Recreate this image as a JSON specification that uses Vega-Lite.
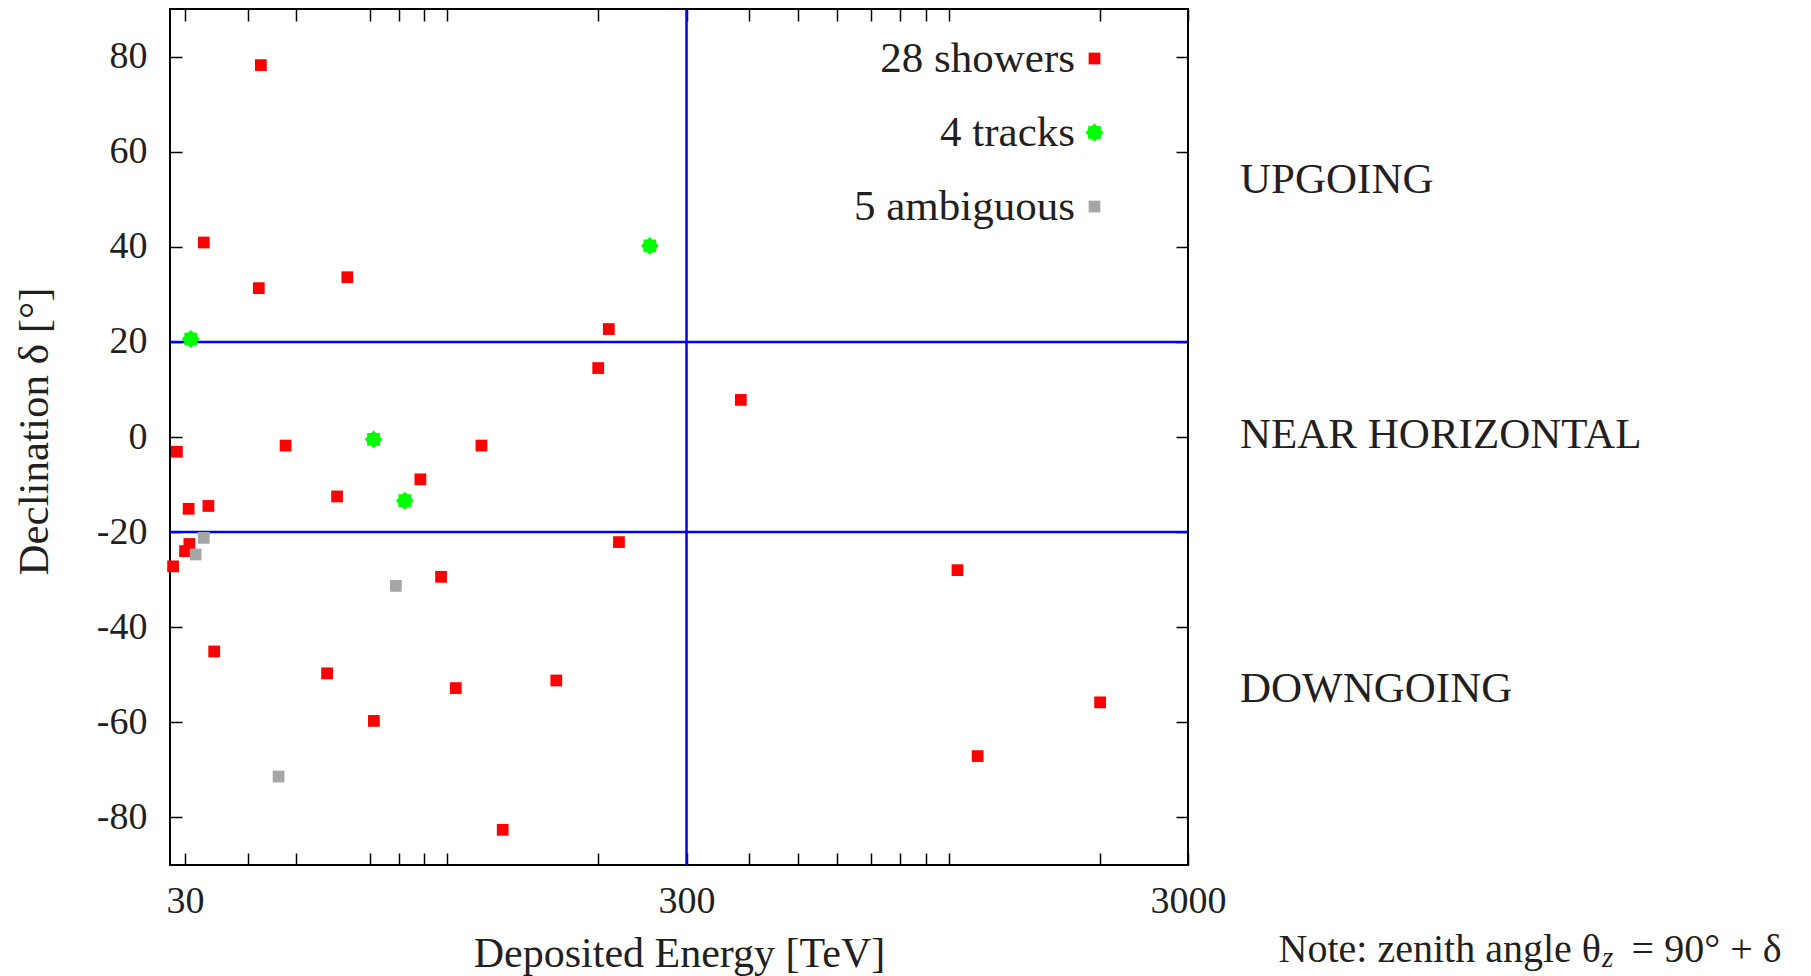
{
  "$schema": "https://vega.github.io/schema/vega-lite/v6.json",
  "autosize": {"type": "none"},
  "padding": {"left": 170, "top": 9, "right": 623, "bottom": 111},
  "width": 1018,
  "height": 856,
  "background": "white",
  "config": {
    "view": {"stroke": "black", "strokeWidth": 2},
    "font": "Liberation Serif",
    "legend": {
      "orient": "none",
      "legendX": 903,
      "legendY": 28,
      "direction": "vertical",
      "padding": 0,
      "labelAlign": "right",
      "labelOffset": -41,
      "labelFontSize": 43,
      "labelFont": "Liberation Serif",
      "labelColor": "#231f20",
      "labelLimit": 500,
      "rowPadding": 30,
      "symbolStrokeWidth": 0
    }
  },
  "layer": [
    {
      "data": {"values": [{"energy": 300}]},
      "mark": {"type": "rule", "color": "#0000ff", "strokeWidth": 2.5},
      "encoding": {
        "x": {
          "field": "energy", "type": "quantitative",
          "scale": {"type": "log", "domain": [28, 3000], "nice": false},
          "axis": {
            "orient": "top", "values": [30,40,50,70,80,90,100,200,300,400,500,600,700,800,900,1000,2000,3000],
            "labels": false, "domain": false, "grid": false, "title": null,
            "tickSize": -12, "tickColor": "black", "tickWidth": 1.5
          }
        }
      }
    },
    {
      "data": {"values": [{"decl": 20}, {"decl": -20}]},
      "mark": {"type": "rule", "color": "#0000ff", "strokeWidth": 2.5},
      "encoding": {
        "y": {
          "field": "decl", "type": "quantitative",
          "scale": {"domain": [-90, 90], "nice": false, "zero": false},
          "axis": {
            "orient": "right", "values": [-80,-60,-40,-20,0,20,40,60,80],
            "labels": false, "domain": false, "grid": false, "title": null,
            "tickSize": -12, "tickColor": "black", "tickWidth": 1.5
          }
        }
      }
    },
    {
      "data": {"values": [
        {"energy": 42.5, "decl": 78.2, "type": "28 showers"},
        {"energy": 32.7, "decl": 40.9, "type": "28 showers"},
        {"energy": 42.1, "decl": 31.3, "type": "28 showers"},
        {"energy": 63.2, "decl": 33.6, "type": "28 showers"},
        {"energy": 28.9, "decl": -3.1, "type": "28 showers"},
        {"energy": 47.6, "decl": -1.8, "type": "28 showers"},
        {"energy": 60.3, "decl": -12.5, "type": "28 showers"},
        {"energy": 30.5, "decl": -15.1, "type": "28 showers"},
        {"energy": 33.4, "decl": -14.5, "type": "28 showers"},
        {"energy": 30.6, "decl": -22.5, "type": "28 showers"},
        {"energy": 30.0, "decl": -24.0, "type": "28 showers"},
        {"energy": 28.4, "decl": -27.2, "type": "28 showers"},
        {"energy": 34.3, "decl": -45.1, "type": "28 showers"},
        {"energy": 57.6, "decl": -49.7, "type": "28 showers"},
        {"energy": 71.4, "decl": -59.7, "type": "28 showers"},
        {"energy": 210, "decl": 22.7, "type": "28 showers"},
        {"energy": 200, "decl": 14.5, "type": "28 showers"},
        {"energy": 385, "decl": 7.8, "type": "28 showers"},
        {"energy": 117, "decl": -1.8, "type": "28 showers"},
        {"energy": 88.4, "decl": -8.9, "type": "28 showers"},
        {"energy": 220, "decl": -22.1, "type": "28 showers"},
        {"energy": 97.2, "decl": -29.4, "type": "28 showers"},
        {"energy": 104, "decl": -52.8, "type": "28 showers"},
        {"energy": 165, "decl": -51.2, "type": "28 showers"},
        {"energy": 129, "decl": -82.6, "type": "28 showers"},
        {"energy": 1041, "decl": -28.0, "type": "28 showers"},
        {"energy": 1142, "decl": -67.1, "type": "28 showers"},
        {"energy": 2004, "decl": -55.8, "type": "28 showers"},
        {"energy": 30.8, "decl": 20.6, "type": "4 tracks"},
        {"energy": 71.3, "decl": -0.5, "type": "4 tracks"},
        {"energy": 82.3, "decl": -13.4, "type": "4 tracks"},
        {"energy": 253.5, "decl": 40.2, "type": "4 tracks"},
        {"energy": 32.7, "decl": -21.2, "type": "5 ambiguous"},
        {"energy": 31.5, "decl": -24.7, "type": "5 ambiguous"},
        {"energy": 79, "decl": -31.3, "type": "5 ambiguous"},
        {"energy": 46.1, "decl": -71.4, "type": "5 ambiguous"}
      ]},
      "mark": {"type": "point", "filled": true, "opacity": 1},
      "encoding": {
        "x": {
          "field": "energy", "type": "quantitative",
          "scale": {"type": "log", "domain": [28, 3000], "nice": false},
          "axis": {
            "orient": "bottom", "values": [30,40,50,70,80,90,100,200,300,400,500,600,700,800,900,1000,2000,3000],
            "labelExpr": "datum.value == 30 || datum.value == 300 || datum.value == 3000 ? '' + datum.value : ''",
            "domain": false, "grid": false,
            "tickSize": -12, "tickColor": "black", "tickWidth": 1.5,
            "labelFont": "Liberation Serif", "labelFontSize": 38, "labelColor": "#231f20",
            "labelPadding": 29, "labelFlush": false, "labelOverlap": false, "labelBound": false,
            "title": "Deposited Energy [TeV]",
            "titleFont": "Liberation Serif", "titleFontSize": 42, "titleFontWeight": "normal", "titleColor": "#231f20",
            "titleX": 509, "titleY": 101, "titleAlign": "center", "titleBaseline": "alphabetic", "titleAngle": 0
          }
        },
        "y": {
          "field": "decl", "type": "quantitative",
          "scale": {"domain": [-90, 90], "nice": false, "zero": false},
          "axis": {
            "orient": "left", "values": [-80,-60,-40,-20,0,20,40,60,80],
            "labelExpr": "(datum.value < 0 ? '-' : '') + abs(datum.value)",
            "domain": false, "grid": false,
            "tickSize": -12, "tickColor": "black", "tickWidth": 1.5,
            "labelFont": "Liberation Serif", "labelFontSize": 38, "labelColor": "#231f20",
            "labelPadding": 35, "labelOverlap": false, "labelBound": false,
            "title": "Declination δ [°]",
            "titleFont": "Liberation Serif", "titleFontSize": 43, "titleFontWeight": "normal", "titleColor": "#231f20",
            "titleX": -123, "titleY": 422, "titleAlign": "center", "titleBaseline": "alphabetic", "titleAngle": -90
          }
        },
        "color": {
          "field": "type", "type": "nominal",
          "scale": {"type": "ordinal", "domain": ["28 showers", "4 tracks", "5 ambiguous"], "range": ["#ff0000", "#00ff00", "#a6a6a6"]},
          "legend": {
            "title": null,
            "encode": {"labels": {"update": {"fill": {"signal": "datum.label === '5 ambiguous' ? '#9e9e9e' : '#231f20'"}}}}
          }
        },
        "shape": {
          "field": "type", "type": "nominal",
          "scale": {"type": "ordinal", "domain": ["28 showers", "4 tracks", "5 ambiguous"], "range": ["square", "M1,0L0.72,0.3L0.71,0.71L0.3,0.72L0,1L-0.3,0.72L-0.71,0.71L-0.72,0.3L-1,0L-0.72,-0.3L-0.71,-0.71L-0.3,-0.72L0,-1L0.3,-0.72L0.71,-0.71L0.72,-0.3Z", "square"]},
          "legend": {"title": null}
        },
        "size": {
          "field": "type", "type": "nominal",
          "scale": {"type": "ordinal", "domain": ["28 showers", "4 tracks", "5 ambiguous"], "range": [138, 320, 138]},
          "legend": {"title": null}
        }
      }
    },
    {
      "data": {"values": [
        {"label": "UPGOING", "energy": 3809, "decl": 54},
        {"label": "NEAR HORIZONTAL", "energy": 3809, "decl": 0.5},
        {"label": "DOWNGOING", "energy": 3809, "decl": -53}
      ]},
      "mark": {"type": "text", "align": "left", "baseline": "middle", "fontSize": 43, "font": "Liberation Serif", "color": "#231f20"},
      "encoding": {
        "x": {"field": "energy", "type": "quantitative", "scale": {"type": "log", "domain": [28, 3000], "nice": false}, "axis": null},
        "y": {"field": "decl", "type": "quantitative", "scale": {"domain": [-90, 90], "nice": false, "zero": false}, "axis": null},
        "text": {"field": "label"}
      }
    },
    {
      "data": {"values": [{"part": "Note: zenith angle θ", "energy": 19978, "decl": -110.4}]},
      "mark": {"type": "text", "align": "right", "baseline": "alphabetic", "fontSize": 40, "font": "Liberation Serif", "color": "#231f20"},
      "encoding": {
        "x": {"field": "energy", "type": "quantitative", "scale": {"type": "log", "domain": [28, 3000], "nice": false}, "axis": null},
        "y": {"field": "decl", "type": "quantitative", "scale": {"domain": [-90, 90], "nice": false, "zero": false}, "axis": null},
        "text": {"field": "part"}
      }
    },
    {
      "data": {"values": [{"part": "z", "energy": 19978, "decl": -110.4}]},
      "mark": {"type": "text", "align": "left", "baseline": "alphabetic", "fontSize": 29, "fontStyle": "italic", "dx": 1, "dy": 5, "font": "Liberation Serif", "color": "#231f20"},
      "encoding": {
        "x": {"field": "energy", "type": "quantitative", "scale": {"type": "log", "domain": [28, 3000], "nice": false}, "axis": null},
        "y": {"field": "decl", "type": "quantitative", "scale": {"domain": [-90, 90], "nice": false, "zero": false}, "axis": null},
        "text": {"field": "part"}
      }
    },
    {
      "data": {"values": [{"part": "= 90° + δ", "energy": 23000, "decl": -110.4}]},
      "mark": {"type": "text", "align": "left", "baseline": "alphabetic", "fontSize": 40, "font": "Liberation Serif", "color": "#231f20"},
      "encoding": {
        "x": {"field": "energy", "type": "quantitative", "scale": {"type": "log", "domain": [28, 3000], "nice": false}, "axis": null},
        "y": {"field": "decl", "type": "quantitative", "scale": {"domain": [-90, 90], "nice": false, "zero": false}, "axis": null},
        "text": {"field": "part"}
      }
    }
  ],
  "resolve": {"axis": {"x": "independent", "y": "independent"}}
}
